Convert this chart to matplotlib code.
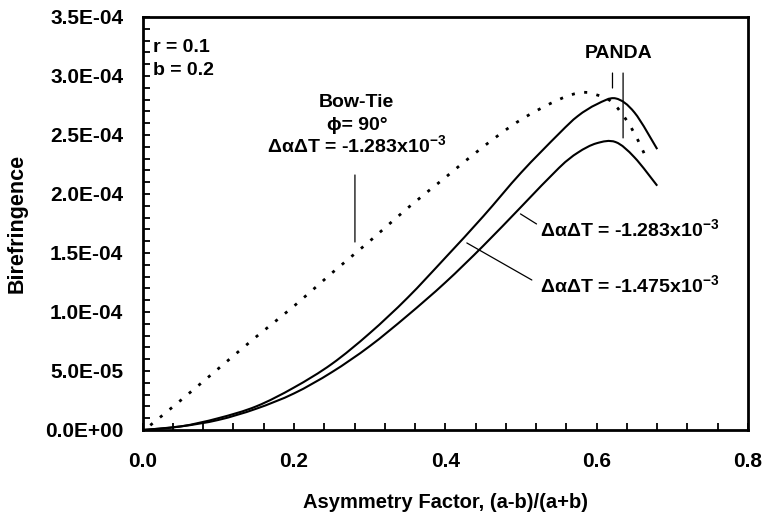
import matplotlib
matplotlib.use('Agg')
import matplotlib.pyplot as plt
import numpy as np
from matplotlib.path import Path
from matplotlib.patches import PathPatch
from matplotlib.ticker import MultipleLocator, FuncFormatter

plt.rcParams['font.family'] = ['Liberation Sans', 'DejaVu Sans']
plt.rcParams['font.weight'] = 'bold'
plt.rcParams['mathtext.fontset'] = 'custom'
plt.rcParams['mathtext.bf'] = 'Liberation Sans:bold'
plt.rcParams['mathtext.rm'] = 'Liberation Sans:bold'

# PANDA, delta-alpha*delta-T = -1.283e-3 (upper solid)
x_panda = [0, 0.05, 0.10, 0.15, 0.20, 0.25, 0.30, 0.35, 0.40, 0.45, 0.50,
           0.55, 0.575, 0.60, 0.625, 0.65, 0.68]
y_panda_1283 = [0, 0.3, 1.0, 2.0, 3.6, 5.6, 8.2, 11.2, 14.6, 18.1, 21.8,
                25.1, 26.6, 27.6, 28.1, 26.9, 23.8]
# PANDA, -1.475e-3 (lower solid)
y_panda_1475 = [0, 0.3, 0.85, 1.8, 3.1, 4.9, 7.1, 9.7, 12.5, 15.6, 18.9,
                22.2, 23.5, 24.3, 24.4, 23.1, 20.7]
# Bow-tie, phi = 90 deg (dotted)
x_bowtie = [0.01, 0.05, 0.10, 0.15, 0.20, 0.25, 0.30, 0.35, 0.40, 0.45,
            0.50, 0.55, 0.58, 0.60, 0.62, 0.64, 0.655, 0.667]
y_bowtie = [0.4, 2.5, 5.2, 7.9, 10.5, 13.3, 16.0, 18.8, 21.4, 24.0,
            26.3, 28.0, 28.6, 28.4, 27.8, 26.2, 24.5, 22.8]

scale = 1e-5


def smooth_line(ax, xs, ys, **kw):
    # excel style smoothed line: bezier segments through the points
    p = np.column_stack([xs, np.asarray(ys) * scale])
    verts = [p[0]]
    codes = [Path.MOVETO]
    n = len(p)
    for i in range(n - 1):
        p0 = p[i - 1] if i > 0 else p[i]
        p1, p2 = p[i], p[i + 1]
        p3 = p[i + 2] if i + 2 < n else p[i + 1]
        verts += [p1 + (p2 - p0) / 6, p2 - (p3 - p1) / 6, p2]
        codes += [Path.CURVE4] * 3
    ax.add_patch(PathPatch(Path(verts, codes), facecolor='none',
                           edgecolor='black', **kw))


fig = plt.figure(figsize=(7.66, 5.16), dpi=100)
ax = fig.add_axes([0.1863, 0.1667, 0.7902, 0.8004])

smooth_line(ax, x_panda, y_panda_1283, lw=1.5)
smooth_line(ax, x_panda, y_panda_1475, lw=1.5)
smooth_line(ax, x_bowtie, y_bowtie, lw=2.0, linestyle=(0, (1.1, 3.4)))

ax.set_xlim(0, 0.8)
ax.set_ylim(0, 3.5e-4)
ax.xaxis.set_major_locator(MultipleLocator(0.2))
ax.xaxis.set_minor_locator(MultipleLocator(0.04))
ax.yaxis.set_major_locator(MultipleLocator(5e-5))
ax.yaxis.set_minor_locator(MultipleLocator(1e-5))
ax.xaxis.set_major_formatter(FuncFormatter(lambda v, p: f'{v:.1f}'))
ax.yaxis.set_major_formatter(FuncFormatter(lambda v, p: f'{v:.1E}'))
ax.tick_params(which='both', direction='in', width=1.3, length=5,
               top=False, right=False)
ax.tick_params(axis='x', which='major', pad=16, labelsize=15)
ax.tick_params(axis='y', which='major', pad=14, labelsize=15)
for s in ax.spines.values():
    s.set_linewidth(2)

ax.set_xlabel('Asymmetry Factor, (a-b)/(a+b)', fontsize=14.5, fontweight='bold')
ax.set_ylabel('Birefringence', fontsize=15.5, fontweight='bold')
ax.xaxis.set_label_coords(0.5, -0.153)
ax.yaxis.set_label_coords(-0.19, 0.5)

fs = 14
ax.text(0.0136, 3.203e-4, 'r = 0.1', fontsize=fs, va='baseline')
ax.text(0.0136, 3.008e-4, 'b = 0.2', fontsize=fs, va='baseline')
ax.text(0.283, 2.737e-4, 'Bow-Tie', fontsize=fs, ha='center', va='baseline')
ax.text(0.283, 2.542e-4, 'ϕ= 90°', fontsize=fs, ha='center', va='baseline')
ax.text(0.283, 2.345e-4, r'ΔαΔT = -1.283x10$^{\mathbf{-3}}$', fontsize=fs,
        ha='center', va='baseline')
ax.text(0.6288, 3.153e-4, 'PANDA', fontsize=fs, ha='center', va='baseline')
ax.text(0.5248, 1.633e-4, r'ΔαΔT = -1.283x10$^{\mathbf{-3}}$', fontsize=fs,
        va='baseline')
ax.text(0.5248, 1.164e-4, r'ΔαΔT = -1.475x10$^{\mathbf{-3}}$', fontsize=fs,
        va='baseline')

# leader lines
leaders = [((0.2805, 2.161e-4), (0.2805, 1.593e-4)),
           ((0.6209, 3.025e-4), (0.6209, 2.898e-4)),
           ((0.6349, 3.025e-4), (0.6349, 2.475e-4)),
           ((0.4993, 1.831e-4), (0.5205, 1.746e-4)),
           ((0.4284, 1.585e-4), (0.5143, 1.271e-4))]
for a, b in leaders:
    ax.annotate('', xy=b, xytext=a,
                arrowprops=dict(arrowstyle='-', color='black', lw=0.9,
                                shrinkA=0, shrinkB=0))

fig.savefig('out.png', dpi=100)
